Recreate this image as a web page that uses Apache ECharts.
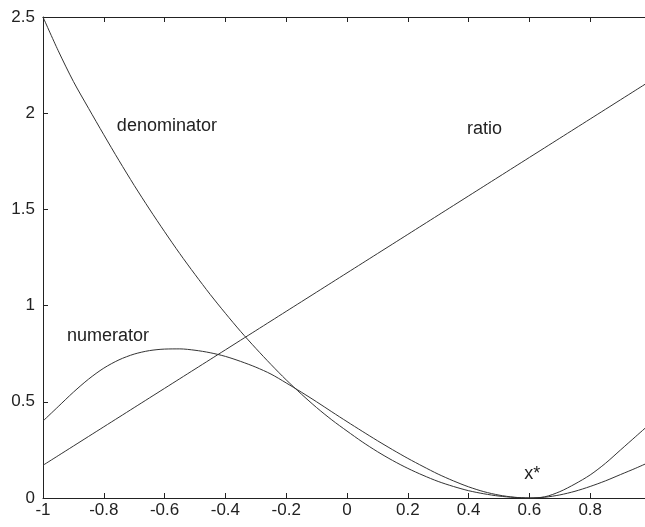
<!DOCTYPE html>
<html>
<head>
<meta charset="utf-8">
<script src="https://cdn.jsdelivr.net/npm/echarts@6/dist/echarts.min.js"></script>
<style>
  html, body { margin: 0; padding: 0; background: #fff; overflow: hidden; }
  /* the frame runs a few pixels past the right edge of the window */
  #chart { width: 652px; height: 527px; }
</style>
</head>
<body>
<div id="chart"></div>
<script>
// Sample points along x
const xs = [-1.00, -0.95, -0.90, -0.85, -0.80, -0.75, -0.70, -0.65, -0.60, -0.55,
            -0.50, -0.45, -0.40, -0.35, -0.30, -0.25, -0.20, -0.15, -0.10, -0.05,
             0.00,  0.05,  0.10,  0.15,  0.20,  0.25,  0.30,  0.35,  0.40,  0.45,
             0.50,  0.55,  0.60,  0.65,  0.70,  0.75,  0.80,  0.85,  0.90,  0.95, 1.00];

const denominator = [2.50, 2.325, 2.165, 2.025, 1.888, 1.754, 1.625, 1.502, 1.384, 1.270,
                     1.162, 1.058, 0.960, 0.866, 0.778, 0.694, 0.614, 0.540, 0.470, 0.406,
                     0.348, 0.292, 0.241, 0.195, 0.154, 0.118, 0.086, 0.060, 0.038, 0.022,
                     0.010, 0.003, 0.000, 0.004, 0.016, 0.035, 0.060, 0.089, 0.122, 0.155, 0.190];

const numerator = [0.40, 0.475, 0.55, 0.618, 0.675, 0.718, 0.748, 0.766, 0.774, 0.775,
                   0.768, 0.755, 0.736, 0.710, 0.680, 0.644, 0.598, 0.550, 0.500, 0.448,
                   0.397, 0.347, 0.298, 0.251, 0.206, 0.164, 0.124, 0.089, 0.058, 0.033,
                   0.015, 0.004, 0.000, 0.006, 0.033, 0.073, 0.12, 0.18, 0.25, 0.32, 0.39];

const ratio = [0.17, 0.22, 0.27, 0.32, 0.37, 0.42, 0.47, 0.52, 0.57, 0.62,
               0.67, 0.72, 0.77, 0.82, 0.87, 0.92, 0.97, 1.02, 1.07, 1.12,
               1.17, 1.22, 1.27, 1.32, 1.37, 1.42, 1.47, 1.52, 1.57, 1.62,
               1.67, 1.72, 1.77, 1.82, 1.87, 1.92, 1.97, 2.02, 2.07, 2.12, 2.17];

// Curve annotations: text and anchor in data coordinates (left edge, vertical middle)
const annotations = [
  { text: 'denominator', at: [-0.757, 1.935] },
  { text: 'ratio',       at: [0.395, 1.92] },
  { text: 'numerator',   at: [-0.921, 0.84] },
  { text: 'x*',          at: [0.583, 0.125] }
];

const FONT = '"Liberation Sans", Arial, sans-serif';
const INK = '#222';
const LINE = '#333';

const pairs = ys => xs.map((x, i) => [x, ys[i]]);

const chart = echarts.init(document.getElementById('chart'), null, { renderer: 'canvas' });

const axisCommon = {
  axisLine: { show: true, onZero: false, lineStyle: { color: INK, width: 1 } },
  axisTick: { show: true, inside: true, length: 5, lineStyle: { color: INK, width: 1 } },
  splitLine: { show: false }
};

const lineSeries = (name, ys) => ({
  name, type: 'line', data: pairs(ys),
  showSymbol: false, symbol: 'none', smooth: 0.3,
  lineStyle: { color: LINE, width: 1 },
  xAxisIndex: 0, yAxisIndex: 0,
  animation: false
});

chart.setOption({
  animation: false,
  backgroundColor: '#fff',
  grid: { left: 43, top: 17, right: 1, bottom: 29, containLabel: false },
  xAxis: [
    Object.assign({
      type: 'value', position: 'bottom', min: -1, max: 1, interval: 0.2,
      axisLabel: { show: true, margin: 4, color: INK, fontSize: 17, fontFamily: FONT,
                   showMaxLabel: false,
                   formatter: v => String(Math.round(v * 10) / 10) }
    }, axisCommon),
    Object.assign({
      type: 'value', position: 'top', min: -1, max: 1, interval: 0.2,
      axisLabel: { show: false }
    }, axisCommon)
  ],
  yAxis: [
    Object.assign({
      type: 'value', position: 'left', min: 0, max: 2.5, interval: 0.5,
      axisLabel: { show: true, margin: 8, color: INK, fontSize: 17, fontFamily: FONT }
    }, axisCommon),
    Object.assign({
      type: 'value', position: 'right', min: 0, max: 2.5, interval: 0.5,
      axisLabel: { show: false }
    }, axisCommon)
  ],
  series: [
    lineSeries('denominator', denominator),
    lineSeries('numerator', numerator),
    lineSeries('ratio', ratio)
  ]
});

// Place the curve names at their data positions
chart.setOption({
  graphic: annotations.map(a => {
    const p = chart.convertToPixel({ xAxisIndex: 0, yAxisIndex: 0 }, a.at);
    return {
      type: 'text', x: p[0], y: p[1], silent: true,
      style: { text: a.text, fill: INK, font: '18px ' + FONT,
               textAlign: 'left', textVerticalAlign: 'middle' }
    };
  })
});
</script>
</body>
</html>
